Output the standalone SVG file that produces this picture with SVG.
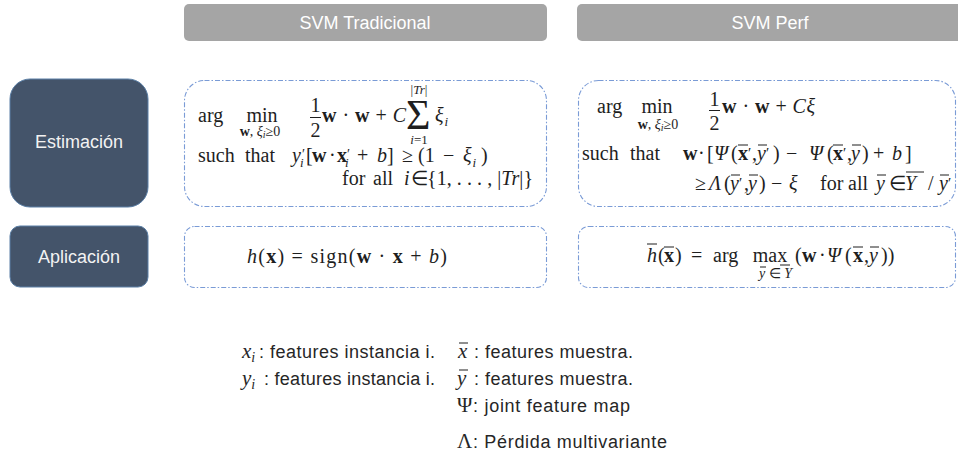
<svg xmlns="http://www.w3.org/2000/svg" width="958" height="462" viewBox="0 0 958 462">
  <style>
    .hdr { fill: #a5a5a5; }
    .hdr-t { font-family: "Liberation Sans", Arial, sans-serif; font-size: 18px; fill: #ffffff; text-anchor: middle; }
    .row { fill: #44546a; stroke: #5b7fa6; stroke-width: 1; }
    .row-t { font-family: "Liberation Sans", Arial, sans-serif; font-size: 18px; fill: #f2f2f2; text-anchor: middle; }
    .frame { fill: none; stroke: #7a9bd6; stroke-width: 1.1; stroke-dasharray: 5 2 1.5 2; }
    .m { font-family: "Liberation Serif", "Times New Roman", serif; font-size: 20px; fill: #1e1e1e; }
    .s { font-size: 14px; }
    .ss { font-size: 13px; }
    .big { font-size: 42px; }
    .i { font-style: italic; }
    .b { font-weight: bold; }
    .c { text-anchor: middle; }
    .bar { stroke: #1e1e1e; stroke-width: 1; }
    .lg { font-family: "Liberation Sans", Arial, sans-serif; font-size: 18px; fill: #262626; }
    .lm { font-family: "Liberation Serif", "Times New Roman", serif; font-size: 21px; fill: #262626; }
  </style>

  <!-- column headers -->
  <g id="hdr-tradicional">
    <rect class="hdr" x="184" y="4" width="363" height="37" rx="5"/>
    <text class="hdr-t" x="365" y="29">SVM Tradicional</text>
  </g>
  <g id="hdr-perf">
    <rect class="hdr" x="577" y="4" width="390" height="37" rx="5"/>
    <text class="hdr-t" x="770" y="29">SVM Perf</text>
  </g>

  <!-- row labels -->
  <g id="row-estimacion">
    <rect class="row" x="10" y="79" width="138" height="128" rx="20"/>
    <text class="row-t" x="79" y="148">Estimación</text>
  </g>
  <g id="row-aplicacion">
    <rect class="row" x="10" y="226" width="138" height="61" rx="10"/>
    <text class="row-t" x="79" y="263">Aplicación</text>
  </g>

  <!-- classic SVM training problem -->
  <g id="est-tradicional">
    <rect class="frame" x="184.5" y="80.5" width="362" height="126" rx="20"/>
    <text class="m" x="198" y="122">arg</text>
    <text class="m c" x="262" y="122">min</text>
    <text class="m s c" x="260" y="136"><tspan class="b">w</tspan>, <tspan class="i">ξ</tspan><tspan class="i" font-size="10" dy="2">i</tspan><tspan dy="-2">≥0</tspan></text>
    <text class="m c" x="315.5" y="112">1</text>
    <line class="bar" x1="310" y1="117.5" x2="321" y2="117.5"/>
    <text class="m c" x="315.5" y="137">2</text>
    <text class="m" x="322" y="122" textLength="84" lengthAdjust="spacing"><tspan class="b">w</tspan> · <tspan class="b">w</tspan> + <tspan class="i">C</tspan></text>
    <text class="m big" x="406" y="129">Σ</text>
    <text class="m ss c" x="419" y="94">|<tspan class="i">Tr</tspan>|</text>
    <text class="m ss c" x="419" y="144"><tspan class="i">i</tspan>=1</text>
    <text class="m i" x="435" y="122">ξ<tspan font-size="13" dx="1" dy="4">i</tspan></text>

    <text class="m" x="198" y="162">such</text>
    <text class="m" x="245" y="162">that</text>
    <text class="m" x="292" y="162"><tspan class="i">y</tspan><tspan font-size="14" dx="1" dy="-3">′</tspan><tspan class="i" font-size="13" dx="-5" dy="8">i</tspan></text>
    <text class="m" x="306" y="162">[</text>
    <text class="m b" x="312" y="162">w</text>
    <text class="m" x="329" y="162">·</text>
    <text class="m" x="337" y="162"><tspan class="b">x</tspan><tspan font-size="14" dy="-3">′</tspan><tspan class="i" font-size="13" dx="-5" dy="8">i</tspan></text>
    <text class="m" x="357" y="162">+</text>
    <text class="m i" x="377" y="162">b</text>
    <text class="m" x="387" y="162">]</text>
    <text class="m" x="402" y="162">≥</text>
    <text class="m" x="418" y="162">(1</text>
    <text class="m" x="443" y="162">−</text>
    <text class="m i" x="463" y="162">ξ<tspan font-size="13" dx="1" dy="5">i</tspan></text>
    <text class="m" x="481" y="162">)</text>

    <text class="m" x="342" y="185">for</text>
    <text class="m" x="373" y="185">all</text>
    <text class="m i" x="404" y="185">i</text>
    <text class="m" x="411" y="185">∈</text>
    <text class="m" x="427" y="185" textLength="106" lengthAdjust="spacing">{1, . . . , |<tspan class="i">Tr</tspan>|}</text>
  </g>

  <!-- structural SVM (multivariate) training problem -->
  <g id="est-perf">
    <rect class="frame" x="578.5" y="80.5" width="377" height="126" rx="20"/>
    <text class="m" x="597" y="113">arg</text>
    <text class="m c" x="657" y="113">min</text>
    <text class="m s c" x="658" y="129"><tspan class="b">w</tspan>, <tspan class="i">ξ</tspan><tspan class="i" font-size="10" dy="2">i</tspan><tspan dy="-2">≥0</tspan></text>
    <text class="m c" x="714.5" y="106">1</text>
    <line class="bar" x1="709" y1="110.5" x2="720" y2="110.5"/>
    <text class="m c" x="714.5" y="130">2</text>
    <text class="m" x="722" y="113" textLength="93" lengthAdjust="spacing"><tspan class="b">w</tspan> · <tspan class="b">w</tspan> + <tspan class="i">Cξ</tspan></text>

    <text class="m" x="582" y="160">such</text>
    <text class="m" x="630" y="160">that</text>
    <text class="m b" x="683" y="160">w</text>
    <text class="m" x="698" y="160">·</text>
    <text class="m" x="707" y="160">[</text>
    <text class="m i" x="714" y="160">Ψ</text>
    <text class="m" x="731" y="160">(</text>
    <text class="m" x="738" y="160"><tspan class="b">x</tspan><tspan font-size="15" dy="-2">′</tspan></text>
    <line class="bar" x1="738" y1="145" x2="748" y2="145"/>
    <text class="m" x="752" y="160">,</text>
    <text class="m" x="757" y="160"><tspan class="i">y</tspan><tspan font-size="15" dy="-2">′</tspan></text>
    <line class="bar" x1="758" y1="145" x2="767" y2="145"/>
    <text class="m" x="773" y="160">)</text>
    <text class="m" x="786" y="160">−</text>
    <text class="m i" x="809" y="160">Ψ</text>
    <text class="m" x="827" y="160">(</text>
    <text class="m" x="833" y="160"><tspan class="b">x</tspan><tspan font-size="15" dy="-2">′</tspan></text>
    <line class="bar" x1="833" y1="145" x2="843" y2="145"/>
    <text class="m" x="847" y="160">,</text>
    <text class="m i" x="851" y="160">y</text>
    <line class="bar" x1="852" y1="145" x2="861" y2="145"/>
    <text class="m" x="862" y="160">)</text>
    <text class="m" x="873" y="160">+</text>
    <text class="m i" x="892" y="160">b</text>
    <text class="m" x="905" y="160">]</text>

    <text class="m" x="695" y="190">≥</text>
    <text class="m i" x="709" y="190">Λ</text>
    <text class="m" x="724" y="190">(</text>
    <text class="m" x="730" y="190"><tspan class="i">y</tspan><tspan font-size="15" dy="-2">′</tspan></text>
    <line class="bar" x1="731" y1="175" x2="740" y2="175"/>
    <text class="m" x="744" y="190">,</text>
    <text class="m i" x="748" y="190">y</text>
    <line class="bar" x1="749" y1="175" x2="758" y2="175"/>
    <text class="m" x="759" y="190">)</text>
    <text class="m" x="771" y="190">−</text>
    <text class="m i" x="789" y="190">ξ</text>
    <text class="m" x="820" y="190">for</text>
    <text class="m" x="848" y="190">all</text>
    <text class="m i" x="876" y="190">y</text>
    <line class="bar" x1="877" y1="175" x2="886" y2="175"/>
    <text class="m" x="889" y="190">∈</text>
    <text class="m i" x="905" y="190">Y</text>
    <line class="bar" x1="906" y1="172" x2="924" y2="172"/>
    <text class="m" x="928" y="190">/</text>
    <text class="m" x="939" y="190"><tspan class="i">y</tspan><tspan font-size="15" dy="-2">′</tspan></text>
    <line class="bar" x1="940" y1="175" x2="949" y2="175"/>
  </g>

  <!-- decision functions -->
  <g id="apl-tradicional">
    <rect class="frame" x="184.5" y="226.5" width="362" height="61" rx="10"/>
    <text class="m" x="247" y="263" textLength="200" lengthAdjust="spacing"><tspan class="i">h</tspan>(<tspan class="b">x</tspan>) = sign(<tspan class="b">w</tspan> · <tspan class="b">x</tspan> + <tspan class="i">b</tspan>)</text>
  </g>
  <g id="apl-perf">
    <rect class="frame" x="578.5" y="226.5" width="377" height="61" rx="10"/>
    <text class="m i" x="647" y="262">h</text>
    <line class="bar" x1="647" y1="244" x2="657" y2="244"/>
    <text class="m" x="658" y="262">(</text>
    <text class="m b" x="664" y="262">x</text>
    <line class="bar" x1="664" y1="247" x2="674" y2="247"/>
    <text class="m" x="675" y="262">)</text>
    <text class="m" x="691" y="262">=</text>
    <text class="m" x="713" y="262">arg</text>
    <text class="m c" x="770" y="262">max</text>
    <text class="m s" x="759" y="278"><tspan class="i">y</tspan> ∈ <tspan class="i">Y</tspan></text>
    <line class="bar" x1="760" y1="267" x2="766" y2="267"/>
    <line class="bar" x1="780" y1="265" x2="790" y2="265"/>
    <text class="m" x="795" y="262">(</text>
    <text class="m b" x="802" y="262">w</text>
    <text class="m" x="819" y="262">·</text>
    <text class="m i" x="827" y="262">Ψ</text>
    <text class="m" x="845" y="262">(</text>
    <text class="m b" x="853" y="262">x</text>
    <line class="bar" x1="853" y1="247" x2="863" y2="247"/>
    <text class="m" x="864" y="262">,</text>
    <text class="m i" x="869" y="262">y</text>
    <line class="bar" x1="870" y1="247" x2="879" y2="247"/>
    <text class="m" x="881" y="262">))</text>
  </g>

  <!-- notation legend -->
  <g id="legend">
    <text class="lm i" x="242" y="358">x<tspan font-size="14" dy="4">i</tspan></text>
    <text class="lg" x="259" y="358" textLength="176" lengthAdjust="spacing">: features instancia i.</text>

    <text class="lm i" x="242" y="385">y<tspan font-size="14" dy="4">i</tspan></text>
    <text class="lg" x="264" y="385" textLength="171" lengthAdjust="spacing">: features instancia i.</text>

    <text class="lm i" x="458" y="358">x</text>
    <line class="bar" x1="459" y1="343" x2="468" y2="343"/>
    <text class="lg" x="474" y="358" textLength="159" lengthAdjust="spacing">: features muestra.</text>

    <text class="lm i" x="457" y="385">y</text>
    <line class="bar" x1="459" y1="370" x2="468" y2="370"/>
    <text class="lg" x="474" y="385" textLength="159" lengthAdjust="spacing">: features muestra.</text>

    <text class="lm" x="457" y="412">Ψ</text>
    <text class="lg" x="473" y="412" textLength="157" lengthAdjust="spacing">: joint feature map</text>

    <text class="lm" x="457" y="448">Λ</text>
    <text class="lg" x="473" y="448" textLength="194" lengthAdjust="spacing">: Pérdida multivariante</text>
  </g>
</svg>
